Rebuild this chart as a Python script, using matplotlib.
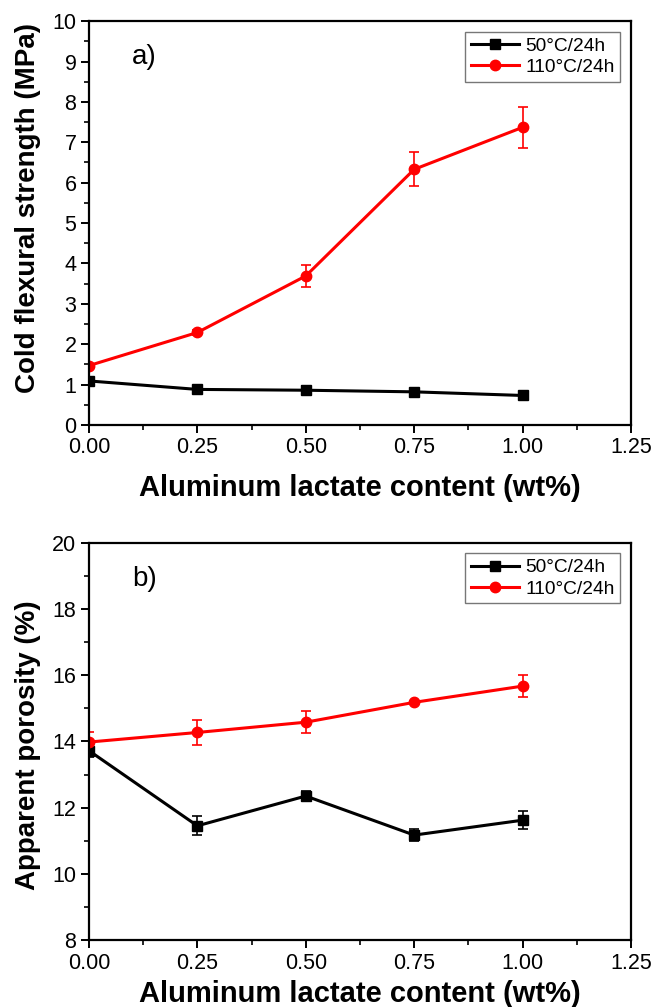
import matplotlib
matplotlib.use("Agg")
import matplotlib.pyplot as plt
from matplotlib.ticker import MultipleLocator

plt.rcParams['font.family'] = ['Liberation Sans', 'DejaVu Sans']

x = [0.0, 0.25, 0.5, 0.75, 1.0]
labels = ["50°C/24h", "110°C/24h"]

# a) Cold flexural strength (MPa)
a_50 = [1.09, 0.88, 0.86, 0.82, 0.73]
a_50_err = [0.05, 0.06, 0.1, 0.05, 0.05]
a_110 = [1.47, 2.29, 3.69, 6.33, 7.37]
a_110_err = [0.05, 0.07, 0.28, 0.42, 0.51]

# b) Apparent porosity (%)
b_50 = [13.72, 11.45, 12.35, 11.17, 11.62]
b_50_err = [0.2, 0.29, 0.16, 0.18, 0.28]
b_110 = [13.98, 14.27, 14.58, 15.18, 15.67]
b_110_err = [0.3, 0.39, 0.33, 0.05, 0.33]

fig = plt.figure(figsize=(6.59, 10.07), dpi=100)
ax1 = fig.add_axes([0.135, 0.578, 0.8225, 0.401])
ax2 = fig.add_axes([0.135, 0.0665, 0.8225, 0.3945])

def style(ax, ylim, ymaj, ymin, ylabel, tag, handles, ycenter, xpad):
    ax.set_xlim(0, 1.25)
    ax.set_ylim(*ylim)
    ax.xaxis.set_major_locator(MultipleLocator(0.25))
    ax.xaxis.set_minor_locator(MultipleLocator(0.125))
    ax.yaxis.set_major_locator(MultipleLocator(ymaj))
    ax.yaxis.set_minor_locator(MultipleLocator(ymin))
    ax.xaxis.set_major_formatter(matplotlib.ticker.FormatStrFormatter('%.2f'))
    for s in ax.spines.values():
        s.set_linewidth(1.6)
    ax.tick_params(which='major', direction='out', length=6, width=1.4, labelsize=15.5,
                   top=False, right=False, pad=3)
    ax.tick_params(which='minor', direction='out', length=3.5, width=1.2, top=False, right=False)
    ax.set_xlabel("Aluminum lactate content (wt%)", fontsize=21, fontweight='bold', labelpad=xpad)
    ax.set_ylabel(ylabel, fontsize=20, fontweight='bold')
    ax.yaxis.set_label_coords(-0.088, ycenter)
    ax.text(0.08, 0.91, tag, transform=ax.transAxes, fontsize=20, ha='left', va='center')
    leg = ax.legend(handles=handles, labels=labels, loc='upper right', fontsize=13.8, frameon=True,
                    fancybox=False, edgecolor='#555555', borderpad=0.3, handlelength=2.5,
                    handletextpad=0.35, labelspacing=0.2, borderaxespad=0.55)
    leg.get_frame().set_linewidth(1.0)

for ax, y50, e50, y110, e110, ylim, ymaj, ymin, ylabel, tag, yc, xpad in [
        (ax1, a_50, a_50_err, a_110, a_110_err, (0, 10), 1, 0.5, "Cold flexural strength (MPa)", "a)", 0.537, 11),
        (ax2, b_50, b_50_err, b_110, b_110_err, (8, 20), 2, 1, "Apparent porosity (%)", "b)", 0.49, 5)]:
    c1 = ax.errorbar(x, y50, yerr=e50, color='black', marker='s', markersize=7, linewidth=2.2,
                     capsize=3.5, elinewidth=1.2, capthick=1.2)
    c2 = ax.errorbar(x, y110, yerr=e110, color='#ff0000', marker='o', markersize=7.5, linewidth=2.2,
                     capsize=3.5, elinewidth=1.2, capthick=1.2)
    style(ax, ylim, ymaj, ymin, ylabel, tag, [c1.lines[0], c2.lines[0]], yc, xpad)

fig.savefig("out.png", dpi=100)
